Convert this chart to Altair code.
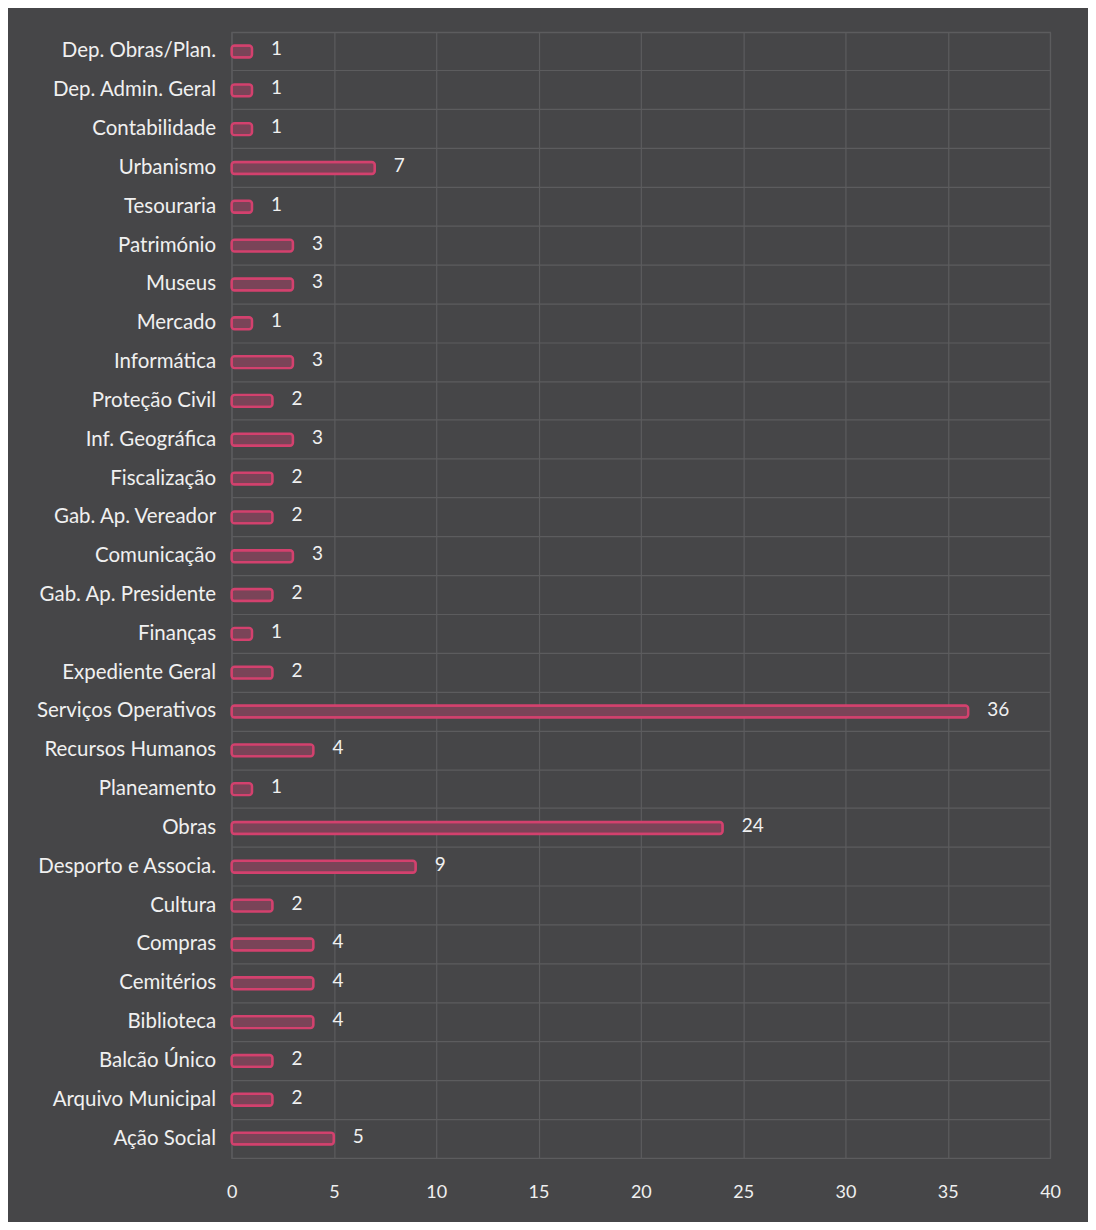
import altair as alt
import pandas as pd

categories = [
    "Dep. Obras/Plan.", "Dep. Admin. Geral", "Contabilidade", "Urbanismo",
    "Tesouraria", "Património", "Museus", "Mercado", "Informática",
    "Proteção Civil", "Inf. Geográfica", "Fiscalização", "Gab. Ap. Vereador",
    "Comunicação", "Gab. Ap. Presidente", "Finanças", "Expediente Geral",
    "Serviços Operativos", "Recursos Humanos", "Planeamento", "Obras",
    "Desporto e Associa.", "Cultura", "Compras", "Cemitérios", "Biblioteca",
    "Balcão Único", "Arquivo Municipal", "Ação Social",
]
values = [1, 1, 1, 7, 1, 3, 3, 1, 3, 2, 3, 2, 2, 3, 2, 1, 2, 36, 4, 1, 24, 9,
          2, 4, 4, 4, 2, 2, 5]
x_ticks = [0, 5, 10, 15, 20, 25, 30, 35, 40]

df = pd.DataFrame({"cat": categories, "val": values})

FONT = "Lato"
BG = "#464648"
GRID = "#5c5c5e"

y_enc = alt.Y("cat:N", sort=categories, title=None,
              scale=alt.Scale(paddingInner=0, paddingOuter=0),
              axis=alt.Axis(labelColor="#f0f0f0", labelFont=FONT, labelFontSize=20.5,
                            labelPadding=16, ticks=False, domain=False,
                            grid=True, gridColor=GRID, gridWidth=1.2,
                            bandPosition=0))
x_enc = alt.X("val:Q", title=None,
              scale=alt.Scale(domain=[0, 40], nice=False),
              axis=alt.Axis(values=x_ticks, labelColor="#f0f0f0", labelFont=FONT,
                            labelFontSize=18, labelPadding=26, labelFlush=False,
                            ticks=False, domain=False, grid=True,
                            gridColor=GRID, gridWidth=1.2))

bars = alt.Chart(df).mark_bar(
    size=12, fill="#7a4458", stroke="#d3416e", strokeWidth=2.4, cornerRadius=3
).encode(x=x_enc, y=y_enc)

labels = alt.Chart(df).mark_text(
    align="left", baseline="middle", dx=19, dy=-2, color="#f0f0f0",
    font=FONT, fontSize=19
).encode(x=alt.X("val:Q"), y=alt.Y("cat:N", sort=categories), text="val:Q")

chart = (bars + labels).properties(
    width=820, height=1128, background=BG,
    padding={"left": 224, "top": 23, "right": 38, "bottom": 63},
    autosize=alt.AutoSizeParams(type="none"),
).configure_view(stroke=GRID, strokeWidth=1.2)

chart.save("out.html", embed_options={"renderer": "svg", "actions": False})
